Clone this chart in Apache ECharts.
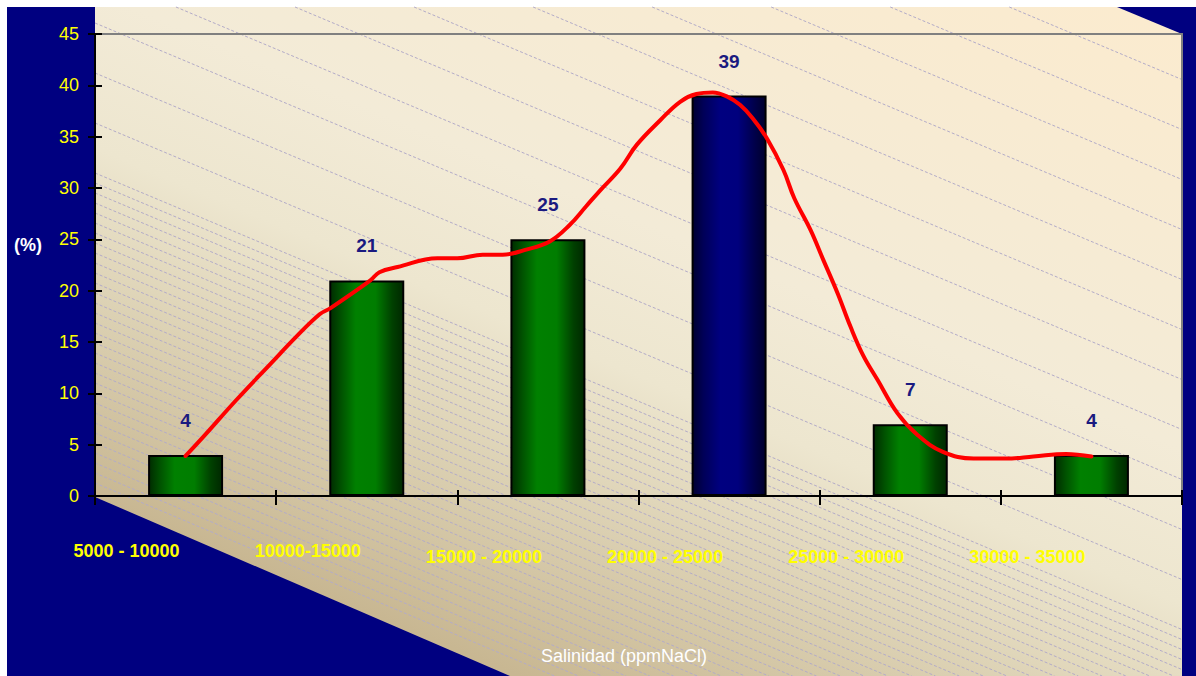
<!DOCTYPE html>
<html>
<head>
<meta charset="utf-8">
<script src="https://cdn.jsdelivr.net/npm/echarts@6/dist/echarts.min.js"></script>
<style>
  html, body { margin: 0; padding: 0; background: #ffffff; }
  #chart { width: 1196px; height: 676px; }
</style>
</head>
<body>
<div id="chart"></div>
<script>
// Salinity classes (ppm NaCl) and share of samples in each class (%)
const categories = ['5000 - 10000', '10000-15000', '15000 - 20000', '20000 - 25000', '25000 - 30000', '30000 - 35000'];
const percentages = [4, 21, 25, 39, 7, 4];
// modal class drawn in navy, the rest in green
const highlighted = [false, false, false, true, false, false];

// value axis range
const yMin = 0, yMax = 45, yStep = 5;

// smoothed frequency curve; x in class units (0.5 = centre of first class), y in %
const curveX = [0.50, 0.60, 0.78, 0.97, 1.11, 1.24, 1.30, 1.52, 1.57, 1.67, 1.89, 2.00, 2.14, 2.25, 2.37,
                2.51, 2.62, 2.71, 2.79, 2.90, 2.99, 3.12, 3.23, 3.32, 3.41, 3.49, 3.56, 3.63, 3.71, 3.80,
                3.86, 3.95, 4.02, 4.10, 4.17, 4.24, 4.32, 4.43, 4.54, 4.68, 4.85, 5.03, 5.18, 5.36, 5.50];
const curveY = [3.9, 5.8, 9.35, 12.9, 15.5, 17.7, 18.3, 21.0, 21.8, 22.3, 23.15, 23.15, 23.5, 23.5, 23.95,
                24.8, 26.4, 28.2, 29.8, 31.9, 34.2, 36.6, 38.4, 39.15, 39.3, 38.9, 38.1, 36.8, 34.8, 31.75,
                29.0, 25.9, 23.0, 19.7, 16.5, 13.7, 11.3, 8.05, 5.95, 4.3, 3.65, 3.65, 3.85, 4.1, 3.85];

const FONT = '"Liberation Sans", Arial, sans-serif';
const W = 1196, H = 676;
const L = 95, R = 1182, T = 34, B = 496;   // plot area edges

// ---- backdrop: navy frame, shaded wall and its hatching ----
const wallFill = {
  type: 'linear', global: true,
  x: 95, y: 497, x2: 423, y2: -284,
  colorStops: [
    { offset: 0.00, color: '#c8b792' },
    { offset: 0.20, color: '#dbd0b2' },
    { offset: 0.38, color: '#ede6cf' },
    { offset: 0.55, color: '#f3ebd7' },
    { offset: 1.00, color: '#fbebcf' }
  ]
};

const backdrop = [
  { type: 'rect', z: -5, silent: true, shape: { x: 7, y: 7, width: W - 7, height: H - 7 }, style: { fill: '#000080' } },
  { type: 'polygon', z: -4, silent: true,
    shape: { points: [[L, 7], [1117, 7], [R, T], [R, H], [510, H], [L, 497]] },
    style: { fill: wallFill } }
];

const slope = 0.42;
const hatchOffsets = [];
for (let c = 173; c >= -425; c -= 50) hatchOffsets.push(c);
for (let c = 183; c <= 492; c += 10) hatchOffsets.push(c);
hatchOffsets.forEach(c => {
  let x1 = L, y1 = c;
  if (c < 7) { y1 = 7; x1 = L + (7 - c) / slope; }
  let x2 = R, y2 = c + slope * (R - L);
  if (y2 > H) { y2 = H; x2 = L + (H - c) / slope; }
  if (x1 >= x2) return;
  backdrop.push({
    type: 'line', z: -3, silent: true,
    shape: { x1, y1, x2, y2 },
    style: { stroke: '#b3abc8', lineWidth: 1, lineDash: [3, 2] }
  });
});

// axis titles
backdrop.push(
  { type: 'text', z: 5, silent: true, x: 28, y: 245,
    style: { text: '(%)', fill: '#ffffff', font: 'bold 18px ' + FONT, align: 'center', verticalAlign: 'middle' } },
  { type: 'text', z: 5, silent: true, x: 624, y: 656,
    style: { text: 'Salinidad (ppmNaCl)', fill: '#ffffff', font: '18px ' + FONT, align: 'center', verticalAlign: 'middle' } }
);

// ---- bar fills ----
const greenFill = {
  type: 'linear', x: 0, y: 0, x2: 1, y2: 0,
  colorStops: [
    { offset: 0.00, color: '#002c00' },
    { offset: 0.15, color: '#005200' },
    { offset: 0.35, color: '#008000' },
    { offset: 0.62, color: '#007d00' },
    { offset: 0.85, color: '#004000' },
    { offset: 1.00, color: '#002800' }
  ]
};
const navyFill = {
  type: 'linear', x: 0, y: 0, x2: 1, y2: 0,
  colorStops: [
    { offset: 0.00, color: '#000030' },
    { offset: 0.15, color: '#000058' },
    { offset: 0.38, color: '#000080' },
    { offset: 0.62, color: '#00007e' },
    { offset: 0.85, color: '#00004a' },
    { offset: 1.00, color: '#00002c' }
  ]
};

const barData = percentages.map((v, i) => ({
  value: v,
  itemStyle: { color: highlighted[i] ? navyFill : greenFill }
}));
const curveData = curveX.map((x, i) => [x, curveY[i]]);

const tickStyle = { color: '#000000', width: 2 };

const chart = echarts.init(document.getElementById('chart'), null, { renderer: 'svg' });
chart.setOption({
  animation: false,
  backgroundColor: 'transparent',
  textStyle: { fontFamily: FONT },
  graphic: { elements: backdrop },
  grid: {
    left: L, right: W - R, top: T, bottom: H - B,
    show: true, borderColor: '#808080', borderWidth: 2, backgroundColor: 'transparent'
  },
  xAxis: [
    {
      type: 'category', data: categories, position: 'bottom',
      axisLine: { show: true, onZero: false, lineStyle: { color: '#000000', width: 2 } },
      axisTick: { show: true, length: 9, lineStyle: tickStyle },
      axisLabel: {
        interval: 0, margin: 46, color: '#ffff00', fontWeight: 'bold', fontSize: 18, fontFamily: FONT,
        formatter: (v, i) => (i < 2 ? '{up|' + v + '}' : '{dn|' + v + '}'),
        rich: {
          up: { color: '#ffff00', fontWeight: 'bold', fontSize: 18, fontFamily: FONT, padding: [0, 118, 0, 0] },
          dn: { color: '#ffff00', fontWeight: 'bold', fontSize: 18, fontFamily: FONT, padding: [6, 128, 0, 0] }
        }
      },
      splitLine: { show: false }
    },
    {
      type: 'category', data: categories, position: 'bottom',
      axisLine: { show: false },
      axisTick: { show: true, inside: true, length: 6, lineStyle: tickStyle },
      axisLabel: { show: false },
      splitLine: { show: false }
    },
    { type: 'value', min: 0, max: categories.length, show: false, position: 'bottom' }
  ],
  yAxis: [
    {
      type: 'value', min: yMin, max: yMax, interval: yStep, position: 'left',
      axisLine: { show: true, onZero: false, lineStyle: { color: '#000000', width: 2 } },
      axisTick: { show: true, length: 7, lineStyle: tickStyle },
      axisLabel: { color: '#ffff00', fontSize: 18, margin: 16, fontFamily: FONT },
      splitLine: { show: false }
    },
    {
      type: 'value', min: yMin, max: yMax, interval: yStep, position: 'left',
      axisLine: { show: false },
      axisTick: { show: true, inside: true, length: 7, lineStyle: tickStyle },
      axisLabel: { show: false },
      splitLine: { show: false }
    }
  ],
  series: [
    {
      type: 'bar', xAxisIndex: 0, yAxisIndex: 0,
      data: barData, barWidth: '41.4%',
      itemStyle: { borderColor: '#000000', borderWidth: 2 },
      label: {
        show: true, position: 'top', distance: 25,
        color: '#1a1a80', fontSize: 19, fontWeight: 'bold', fontFamily: FONT
      }
    },
    {
      type: 'line', xAxisIndex: 2, yAxisIndex: 0,
      data: curveData, smooth: 0.4, symbol: 'none', showSymbol: false,
      lineStyle: { color: '#ff0000', width: 4, cap: 'round', join: 'round' },
      z: 3
    }
  ]
});
</script>
</body>
</html>
